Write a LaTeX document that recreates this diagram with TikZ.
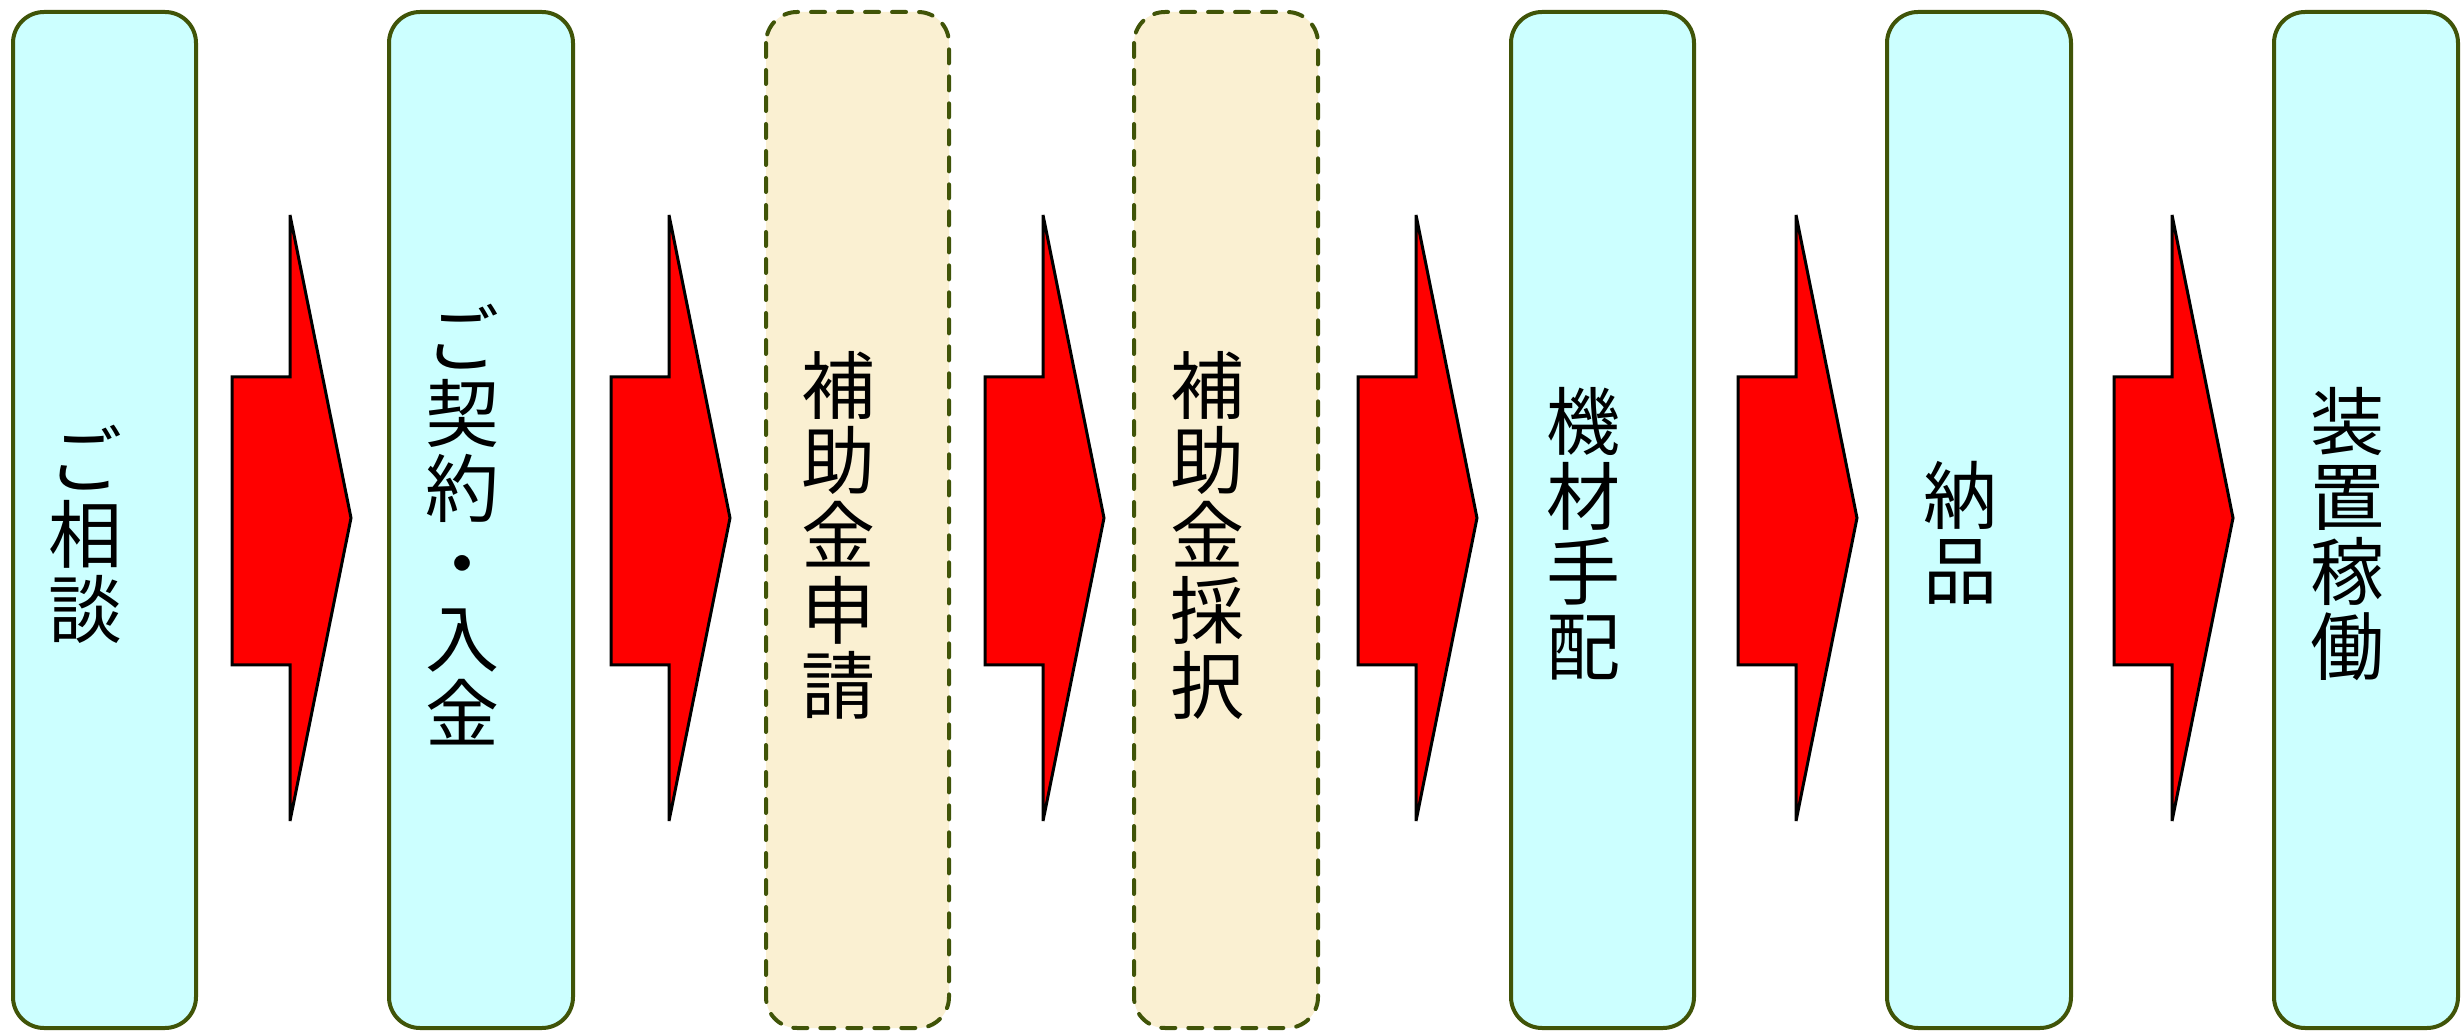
\documentclass[tikz,border=0pt]{standalone}
\usepackage{fontspec}
\newfontfamily\cjk{Noto Sans CJK JP}
\definecolor{boxline}{RGB}{64,84,8}
\definecolor{boxcyan}{RGB}{204,255,255}
\definecolor{boxbeige}{RGB}{250,240,210}
\definecolor{arrred}{RGB}{255,0,0}
\newcommand\flowarrow[2]{%
  \draw[blockarrow] (#2,377) coordinate (#1) -- ++(58,0) -- ++(0,-162) -- ++(61,303)
    -- ++(-61,303) -- ++(0,-156) -- ++(-58,0) -- cycle;}
\begin{document}
\begin{tikzpicture}[x=0.5pt,y=-0.5pt,
  stepbox/.style={draw=boxline,line width=2pt,fill=boxcyan,rounded corners=15.5pt},
  subsidybox/.style={draw=boxline,line width=2pt,fill=boxbeige,rounded corners=15.5pt,
    dash pattern=on 7pt off 6.5pt,line cap=round},
  steptext/.style={font=\cjk\fontsize{37}{37.5}\selectfont,align=center,inner sep=0pt,text=black},
  blockarrow/.style={draw=black,line width=1.5pt,fill=arrred,line join=miter}]
\useasboundingbox (0,0) rectangle (2464,1031);
\fill[white] (0,0) rectangle (2464,1031);
% boxes
\draw[stepbox]    (13,12)   rectangle (196,1028)  coordinate (b1);
\draw[stepbox]    (389,12)  rectangle (573,1028)  coordinate (b2);
\draw[subsidybox] (766,12)  rectangle (949,1028)  coordinate (b3);
\draw[subsidybox] (1134,12) rectangle (1318,1028) coordinate (b4);
\draw[stepbox]    (1511,12) rectangle (1694,1028) coordinate (b5);
\draw[stepbox]    (1887,12) rectangle (2071,1028) coordinate (b6);
\draw[stepbox]    (2274,12) rectangle (2458,1028) coordinate (b7);
% texts
\node[steptext] (t1) at (85,534)   {ご\\相\\談};
\node[steptext] (t2) at (462,525)  {ご\\契\\約\\・\\入\\金};
\node[steptext] (t3) at (838,535)  {補\\助\\金\\申\\請};
\node[steptext] (t4) at (1207,535) {補\\助\\金\\採\\択};
\node[steptext] (t5) at (1583,534) {機\\材\\手\\配};
\node[steptext] (t6) at (1960,533) {納\\品};
\node[steptext] (t7) at (2347,534) {装\\置\\稼\\働};
% arrows
\flowarrow{a1}{232}
\flowarrow{a2}{611}
\flowarrow{a3}{985}
\flowarrow{a4}{1358}
\flowarrow{a5}{1738}
\flowarrow{a6}{2114}
\end{tikzpicture}
\end{document}
